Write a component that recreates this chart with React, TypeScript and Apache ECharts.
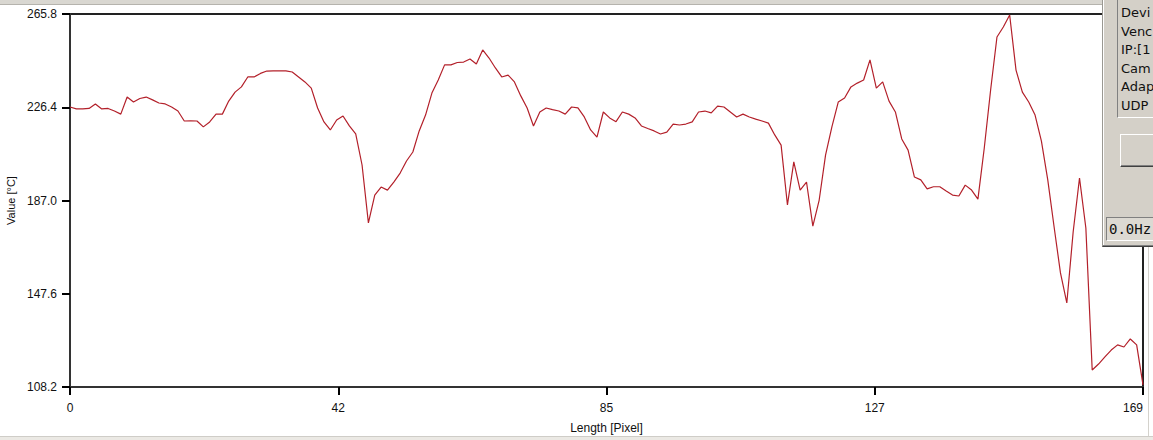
import React, { useEffect, useRef } from "react";
import * as echarts from "echarts";

const lengthPixels: number[] = Array.from({ length: 170 }, (_, i) => i);

const temperatures: number[] = [
  226.5, 225.7, 225.7, 225.9, 227.8, 225.7, 225.9, 224.8, 223.5, 230.7,
  228.6, 230.1, 230.7, 229.5, 228.2, 227.8, 226.5, 224.8, 220.6, 220.7,
  220.6, 218.1, 220.2, 223.5, 223.5, 229.0, 232.8, 235.0, 239.2, 239.2,
  240.7, 241.7, 241.8, 241.8, 241.8, 241.3, 239.2, 237.1, 234.5, 226.1,
  220.2, 216.8, 221.0, 222.7, 218.5, 215.1, 202.0, 177.5, 189.3, 192.7,
  191.4, 194.8, 198.6, 203.7, 207.5, 216.4, 223.1, 232.4, 237.9, 244.3,
  244.3, 245.3, 245.5, 246.8, 244.7, 250.6, 247.2, 243.0, 239.2, 240.0,
  237.1, 231.2, 226.1, 218.5, 224.4, 226.1, 225.4, 224.8, 223.5, 226.5,
  226.1, 222.3, 216.8, 213.8, 224.4, 221.9, 220.3, 224.4, 223.5, 221.9,
  218.5, 217.4, 216.4, 215.1, 215.9, 219.3, 218.9, 219.3, 220.2, 224.4,
  224.8, 224.0, 226.9, 226.5, 224.4, 222.3, 223.5, 222.3, 221.4, 220.6,
  219.7, 214.7, 210.4, 185.1, 203.3, 191.4, 194.8, 176.2, 187.2, 206.2,
  218.1, 228.6, 230.3, 235.0, 236.6, 237.9, 246.4, 234.5, 237.1, 229.0,
  224.4, 213.0, 208.3, 196.9, 195.7, 191.9, 192.8, 192.8, 191.0, 189.3,
  188.9, 193.5, 191.4, 187.6, 209.2, 233.7, 256.1, 260.3, 265.4, 242.1,
  232.8, 228.6, 223.1, 212.1, 195.7, 175.8, 156.4, 143.7, 173.7, 196.5,
  175.4, 115.4, 117.9, 120.9, 123.8, 126.0, 125.1, 128.5, 126.0, 109.1,
];

const yTicks: number[] = [108.2, 147.6, 187.0, 226.4, 265.8];
const xMin = 0;
const xMax = 169;
const xInterval = 42.25;

const panelLines: string[] = ["Devi", "Venc", "IP:[1", "Cam", "Adap", "UDP"];
const rateText = "0.0Hz";

const abs = (s: React.CSSProperties): React.CSSProperties => ({ position: "absolute", boxSizing: "border-box", ...s });

export default function App() {
  const ref = useRef<HTMLDivElement>(null);

  useEffect(() => {
    if (!ref.current) return;
    const chart = echarts.init(ref.current, undefined, { renderer: "svg" });
    const labelFont = { fontFamily: "Liberation Sans, Arial, sans-serif", fontSize: 12, color: "#111" };

    chart.setOption({
      animation: false,
      backgroundColor: "#ffffff",
      grid: {
        left: 70, right: 10, top: 14, bottom: 53,
        outerBoundsMode: "none",
        show: true, borderColor: "#222", borderWidth: 2, backgroundColor: "transparent",
      },
      xAxis: {
        type: "value", min: xMin, max: xMax, interval: xInterval,
        name: "Length [Pixel]", nameLocation: "middle", nameGap: 35,
        nameTextStyle: { ...labelFont },
        axisLine: { show: true, lineStyle: { color: "#333", width: 2 } },
        axisTick: { show: true, length: 8, lineStyle: { color: "#000000", width: 2 } },
        axisLabel: {
          ...labelFont, margin: 15, showMinLabel: true, showMaxLabel: true, alignMaxLabel: "right",
          formatter: (v: number) => String(Math.round(v)),
        },
        splitLine: { show: false },
      },
      yAxis: {
        type: "value", min: yTicks[0], max: yTicks[yTicks.length - 1],
        name: "Value [°C]", nameLocation: "middle", nameGap: 52, nameRotate: 90,
        nameTextStyle: { ...labelFont, fontSize: 11 },
        axisLine: { show: true, lineStyle: { color: "#333", width: 2 } },
        axisTick: { show: true, length: 8, customValues: yTicks, lineStyle: { color: "#000000", width: 2 } },
        axisLabel: { ...labelFont, margin: 13, customValues: yTicks, formatter: (v: number) => v.toFixed(1) },
        splitLine: { show: false },
      },
      series: [
        {
          type: "line",
          data: lengthPixels.map((x, i) => [x, temperatures[i]]),
          symbol: "none",
          lineStyle: { color: "#b3202a", width: 1.2 },
        },
      ],
    });

    return () => chart.dispose();
  }, []);

  return (
    <div style={{ position: "fixed", left: 0, top: 0, width: 1153, height: 440, overflow: "hidden", background: "#fff" }}>
      <div ref={ref} style={{ position: "absolute", left: 0, top: 0, width: 1153, height: 440 }} />
      <div style={abs({ left: 0, top: 0, width: 1153, height: 5, background: "#d9d7d1", borderBottom: "1px solid #b5b3ad" })} />
      <div style={abs({ left: 0, top: 436, width: 1153, height: 4, background: "#ebe9e4", borderTop: "1px solid #cfcdc8" })} />
      <div style={abs({ left: 1148, top: 247, width: 1, height: 189, background: "#d4d2cc" })} />
      <div style={abs({ left: 1102, top: 0, width: 51, height: 247, background: "#d4d0c8", borderLeft: "1px solid #9a9892", borderBottom: "1px solid #404040" })} />
      <div style={abs({ left: 1103, top: 0, width: 1, height: 245, background: "#ffffff" })} />
      <div style={abs({ left: 1103, top: 245, width: 50, height: 1, background: "#808080" })} />
      <div style={abs({ left: 1117, top: -2, width: 40, height: 120, borderLeft: "1px solid #808080", borderBottom: "1px solid #ffffff" })} />
      {panelLines.map((t, i) => (
        <div
          key={i}
          style={abs({
            left: 1121, top: 13 + i * 18.6 - 8, height: 16, lineHeight: "16px",
            font: "13px 'DejaVu Sans', sans-serif", color: "#111", whiteSpace: "nowrap",
          })}
        >
          {t}
        </div>
      ))}
      <div style={abs({ left: 1120, top: 134, width: 40, height: 33, borderTop: "1px solid #fff", borderLeft: "1px solid #fff", borderBottom: "1px solid #404040" })} />
      <div style={abs({ left: 1121, top: 165, width: 39, height: 1, background: "#808080" })} />
      <div
        style={abs({
          left: 1106, top: 217, width: 50, height: 24, background: "#dcd9d2",
          borderTop: "1px solid #808080", borderLeft: "1px solid #808080", borderBottom: "1px solid #ffffff",
          font: "14px 'DejaVu Sans Mono', monospace", color: "#111", lineHeight: "22px", paddingLeft: 2, whiteSpace: "nowrap",
        })}
      >
        {rateText}
      </div>
    </div>
  );
}
